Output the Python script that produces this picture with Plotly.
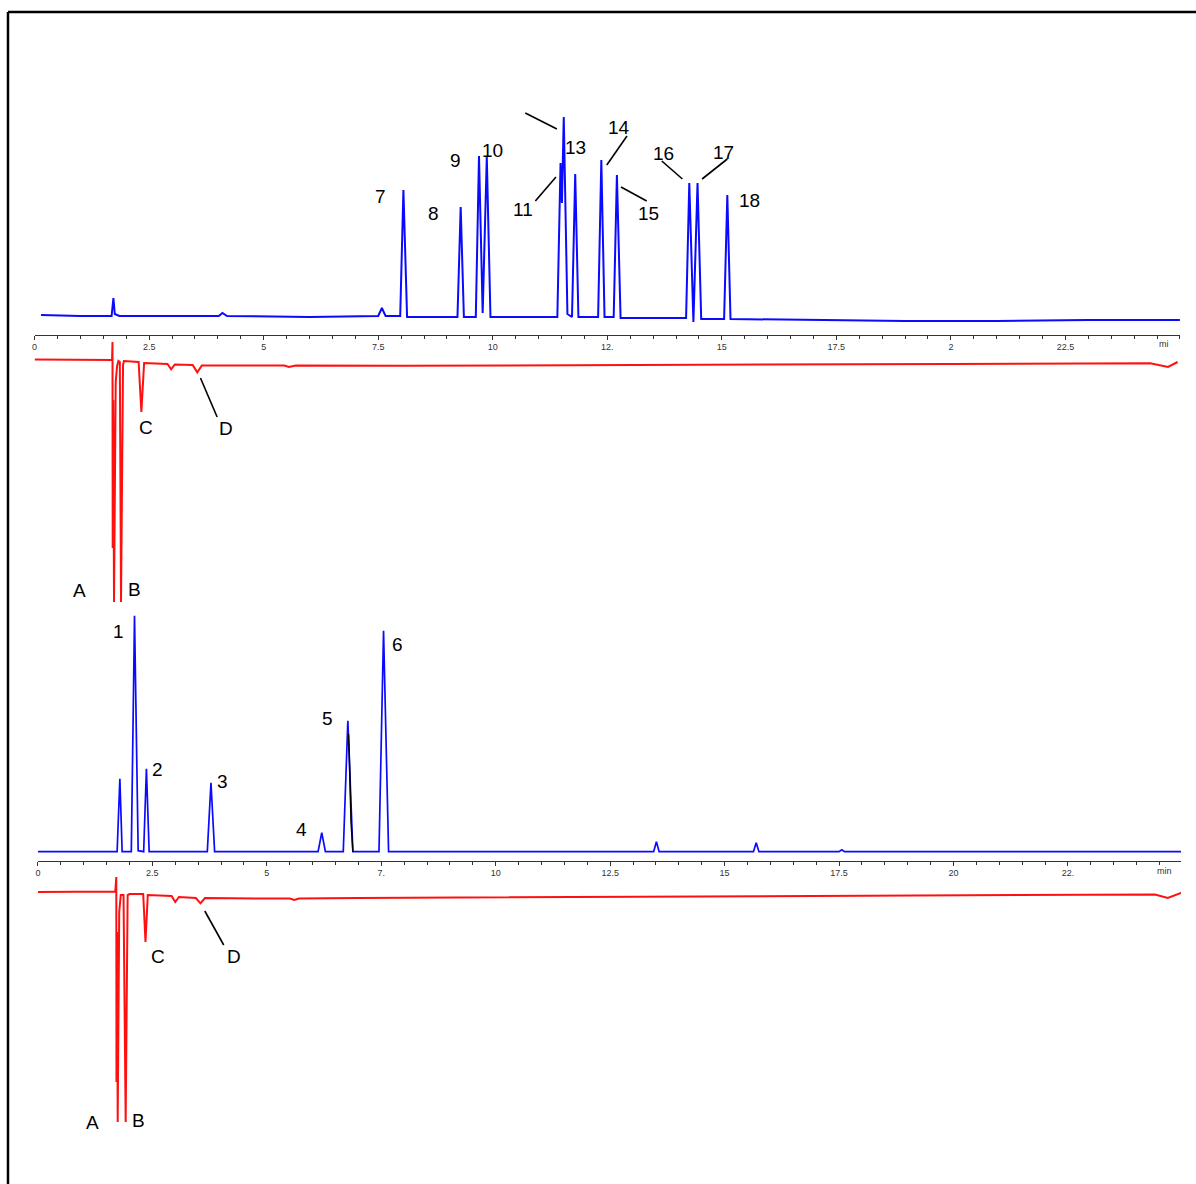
import plotly.graph_objects as go

# ---------------- data (retention time in min, detector response in arbitrary units) -------------
# Upper chromatogram, UV trace (peaks 7-18)
upper_uv_time = [0.14, 1.0, 1.68, 1.72, 1.75, 1.85, 3.0, 4.02, 4.10, 4.20, 6.0, 7.50, 7.58, 7.66,
                 7.98, 8.05, 8.13, 9.23, 9.30, 9.37, 9.63, 9.70, 9.78, 9.87, 9.95,
                 11.41, 11.48, 11.51, 11.55, 11.63, 11.73, 11.80, 11.87, 12.30, 12.37, 12.44,
                 12.64, 12.71, 12.79, 14.22, 14.29, 14.38, 14.47, 14.55, 15.05, 15.12, 15.19,
                 17.0, 19.0, 21.0, 23.0, 25.0]
upper_uv_signal = [1, 0, 0, 18, 2, 0, 0, 0, 3, 0, -1, 0, 8, 0,
                   0, 126, -1, -1, 109, -1, -1, 160, 3, 159, -1,
                   -1, 153, 113, 199, 2, -1, 142, -1, -1, 156, -1,
                   -1, 141, -2, -2, 133, -6, 133, -3, -3, 121, -3,
                   -4, -5, -5, -4, -4]

# Upper chromatogram, second detector (negative peaks A-D)
upper_ri_time = [0.0, 1.0, 1.69, 1.700, 1.704, 1.716, 1.733, 1.77, 1.80, 1.83, 1.86, 1.886, 1.93, 1.95,
                 2.27, 2.33, 2.39, 2.90, 2.98, 3.06, 3.45, 3.55, 3.65, 4.5, 5.45, 5.55, 5.7,
                 8.0, 12.0, 16.0, 20.0, 24.35, 24.74, 24.95]
upper_ri_signal = [0.5, 0, 0, 18, -188, -40, -242, -22, -6, -1, -2, -242, -5, -1,
                   -2, -52, -3, -4, -9.3, -4.5, -5, -12.3, -5.5, -5.5, -5.5, -7, -5.5,
                   -5.8, -5, -4.3, -4, -3.3, -7, -2]

# Lower chromatogram, UV trace (peaks 1-6)
lower_uv_time = [0.0, 1.0, 1.73, 1.79, 1.84, 2.04, 2.11, 2.19, 2.31, 2.37, 2.43, 3.70, 3.78, 3.86,
                 6.12, 6.20, 6.28, 6.67, 6.77, 6.88, 7.45, 7.55, 7.66, 13.45, 13.51, 13.57,
                 15.63, 15.69, 15.75, 17.50, 17.56, 17.62, 25.0]
lower_uv_signal = [0, 0, 0, 73, 0, 0, 236, 1, 0, 83, 0, 0, 69, 0,
                   0, 19, 0, 0, 131, 0, 0, 221, 0, 0, 10, 0,
                   0, 9, 0, 0, 2, 0, 0]
# overlapping integration trace on the tail of peak 5
peak5_tail_time = [6.785, 6.80, 6.84, 6.88]
peak5_tail_signal = [118, 100, 30, 0]

# Lower chromatogram, second detector (negative peaks A-D)
lower_ri_time = [0.0, 1.0, 1.69, 1.712, 1.716, 1.728, 1.743, 1.776, 1.81, 1.87, 1.917, 1.96, 2.0,
                 2.30, 2.35, 2.40, 2.92, 3.00, 3.08, 3.45, 3.55, 3.65, 5.0, 5.5, 5.6, 5.7,
                 7.0, 10.0, 15.0, 20.0, 24.40, 24.68, 24.9, 24.97]
lower_ri_signal = [0, 0, 0.5, 15, -190, -40, -230, -20, -3, -3, -230, -3, -2,
                   -2, -50, -3, -4, -10, -5, -6, -11.3, -6, -6.5, -6.5, -8, -6.5,
                   -6, -5.5, -4.5, -3.5, -2.5, -6, -2.5, -1]

upper_tick_vals = [0, 2.5, 5, 7.5, 10, 12.5, 15, 17.5, 20, 22.5]
upper_tick_text = ["0", "2.5", "5", "7.5", "10", "12.", "15", "17.5", "2", "22.5"]
lower_tick_vals = [0, 2.5, 5, 7.5, 10, 12.5, 15, 17.5, 20, 22.5]
lower_tick_text = ["0", "2.5", "5", "7.", "10", "12.5", "15", "17.5", "20", "22."]

# peak labels: (text, time, response)
upper_uv_labels = [("7", 7.555, 120), ("8", 8.715, 103), ("9", 9.195, 156), ("10", 9.993, 166),
                   ("11", 10.66, 107), ("13", 11.807, 169), ("14", 12.765, 189), ("15", 13.403, 103),
                   ("16", 13.723, 163), ("17", 15.036, 164), ("18", 15.611, 116)]
upper_uv_leaders = [(10.93, 115, 11.38, 139), (10.71, 203, 11.40, 187), (12.49, 151, 12.93, 180),
                    (12.80, 129, 13.36, 115), (13.69, 155, 14.14, 137), (15.12, 157, 14.57, 137)]
upper_ri_labels = [("C", 2.423, -67), ("D", 4.18, -68), ("A", 0.986, -230), ("B", 2.184, -229)]
upper_ri_leaders = [(3.62, -18, 3.984, -57)]
lower_uv_labels = [("1", 1.771, 220), ("2", 2.608, 82), ("3", 4.037, 70), ("4", 5.767, 22),
                   ("5", 6.325, 133), ("6", 7.858, 207)]
lower_ri_labels = [("C", 2.63, -64), ("D", 4.277, -64), ("A", 1.198, -230), ("B", 2.207, -228)]
lower_ri_leaders = [(3.645, -19, 4.059, -53)]

# ---------------- layout helpers (pixel geometry of the page) ----------------
W, H = 1196, 1184
XOFF = -2.0  # small horizontal correction of the page placement
BLUE = "#0a0aff"
RED = "#ff1010"
FONT = "Liberation Sans, Arial, sans-serif"


def px(p):  # pixel column -> paper x
    return (p + XOFF) / W


def py(p):  # pixel row -> paper y
    return 1 - p / H


def yrange(base_px):  # 1 response unit = 1 pixel, zero at base_px
    return [base_px - H, base_px]


fig = go.Figure()
fig.add_trace(go.Scatter(x=upper_uv_time, y=upper_uv_signal, xaxis="x", yaxis="y",
                         mode="lines", line=dict(color=BLUE, width=2)))
fig.add_trace(go.Scatter(x=upper_ri_time, y=upper_ri_signal, xaxis="x", yaxis="y2",
                         mode="lines", line=dict(color=RED, width=2)))
fig.add_trace(go.Scatter(x=lower_uv_time, y=lower_uv_signal, xaxis="x2", yaxis="y3",
                         mode="lines", line=dict(color=BLUE, width=1.7)))
fig.add_trace(go.Scatter(x=peak5_tail_time, y=peak5_tail_signal, xaxis="x2", yaxis="y3",
                         mode="lines", line=dict(color="black", width=1.5)))
fig.add_trace(go.Scatter(x=lower_ri_time, y=lower_ri_signal, xaxis="x2", yaxis="y4",
                         mode="lines", line=dict(color=RED, width=2)))

axis_common = dict(showline=True, linecolor="#333", linewidth=1, ticks="outside", ticklen=4,
                   tickcolor="#333", tickwidth=1, tickmode="array", showgrid=False, zeroline=False,
                   tickfont=dict(family=FONT, size=9, color="#333"), side="bottom", anchor="free",
                   minor=dict(tickmode="linear", tick0=0, dtick=0.5, ticks="outside", ticklen=3,
                              tickcolor="#333", tickwidth=1, showgrid=False))

yaxis_common = dict(visible=False, domain=[0, 1], showgrid=False, zeroline=False, fixedrange=True)

fig.update_layout(
    width=W, height=H, margin=dict(l=0, r=0, t=0, b=0),
    paper_bgcolor="white", plot_bgcolor="rgba(0,0,0,0)", showlegend=False,
    xaxis=dict(axis_common, domain=[px(33.7), px(1181.9)], range=[0, 25],
               position=py(334.5), tickvals=upper_tick_vals, ticktext=upper_tick_text),
    xaxis2=dict(axis_common, domain=[px(37), px(1183)], range=[0, 24.97],
                position=py(860.5), tickvals=lower_tick_vals, ticktext=lower_tick_text),
    yaxis=dict(yaxis_common, anchor="x", range=yrange(316)),
    yaxis2=dict(yaxis_common, anchor="x", overlaying="y", range=yrange(360)),
    yaxis3=dict(yaxis_common, anchor="x2", range=yrange(851.7)),
    yaxis4=dict(yaxis_common, anchor="x2", overlaying="y3", range=yrange(892)),
)

annotations = []
shapes = []


def add_labels(labels, xref, yref):
    for text, t, v in labels:
        annotations.append(dict(text=text, x=t, y=v, xref=xref, yref=yref, showarrow=False,
                                xanchor="center", yanchor="middle",
                                font=dict(family=FONT, size=19, color="black")))


def add_leaders(leaders, xref, yref):
    for x0, y0, x1, y1 in leaders:
        shapes.append(dict(type="line", x0=x0, y0=y0, x1=x1, y1=y1, xref=xref, yref=yref,
                           line=dict(color="black", width=1.6)))


add_labels(upper_uv_labels, "x", "y")
add_leaders(upper_uv_leaders, "x", "y")
add_labels(upper_ri_labels, "x", "y2")
add_leaders(upper_ri_leaders, "x", "y2")
add_labels(lower_uv_labels, "x2", "y3")
add_labels(lower_ri_labels, "x2", "y4")
add_leaders(lower_ri_leaders, "x2", "y4")

# axis unit labels
annotations.append(dict(text="mi", x=24.65, y=py(344), xref="x", yref="paper", showarrow=False,
                        xanchor="center", yanchor="middle", font=dict(family=FONT, size=9, color="#333")))
annotations.append(dict(text="min", x=24.6, y=py(871), xref="x2", yref="paper", showarrow=False,
                        xanchor="center", yanchor="middle", font=dict(family=FONT, size=9, color="#333")))

# page frame (top and left edges)
shapes.append(dict(type="line", xref="paper", yref="paper", x0=px(7), x1=1.0, y0=py(12), y1=py(12),
                   line=dict(color="black", width=2.5)))
shapes.append(dict(type="line", xref="paper", yref="paper", x0=px(7), x1=px(7), y0=py(12), y1=0,
                   line=dict(color="black", width=2.5)))

fig.update_layout(annotations=annotations, shapes=shapes)
fig.write_html("out.html", config={"displayModeBar": False},
               post_script="document.body.style.margin='0px';document.body.style.overflow='hidden';")
